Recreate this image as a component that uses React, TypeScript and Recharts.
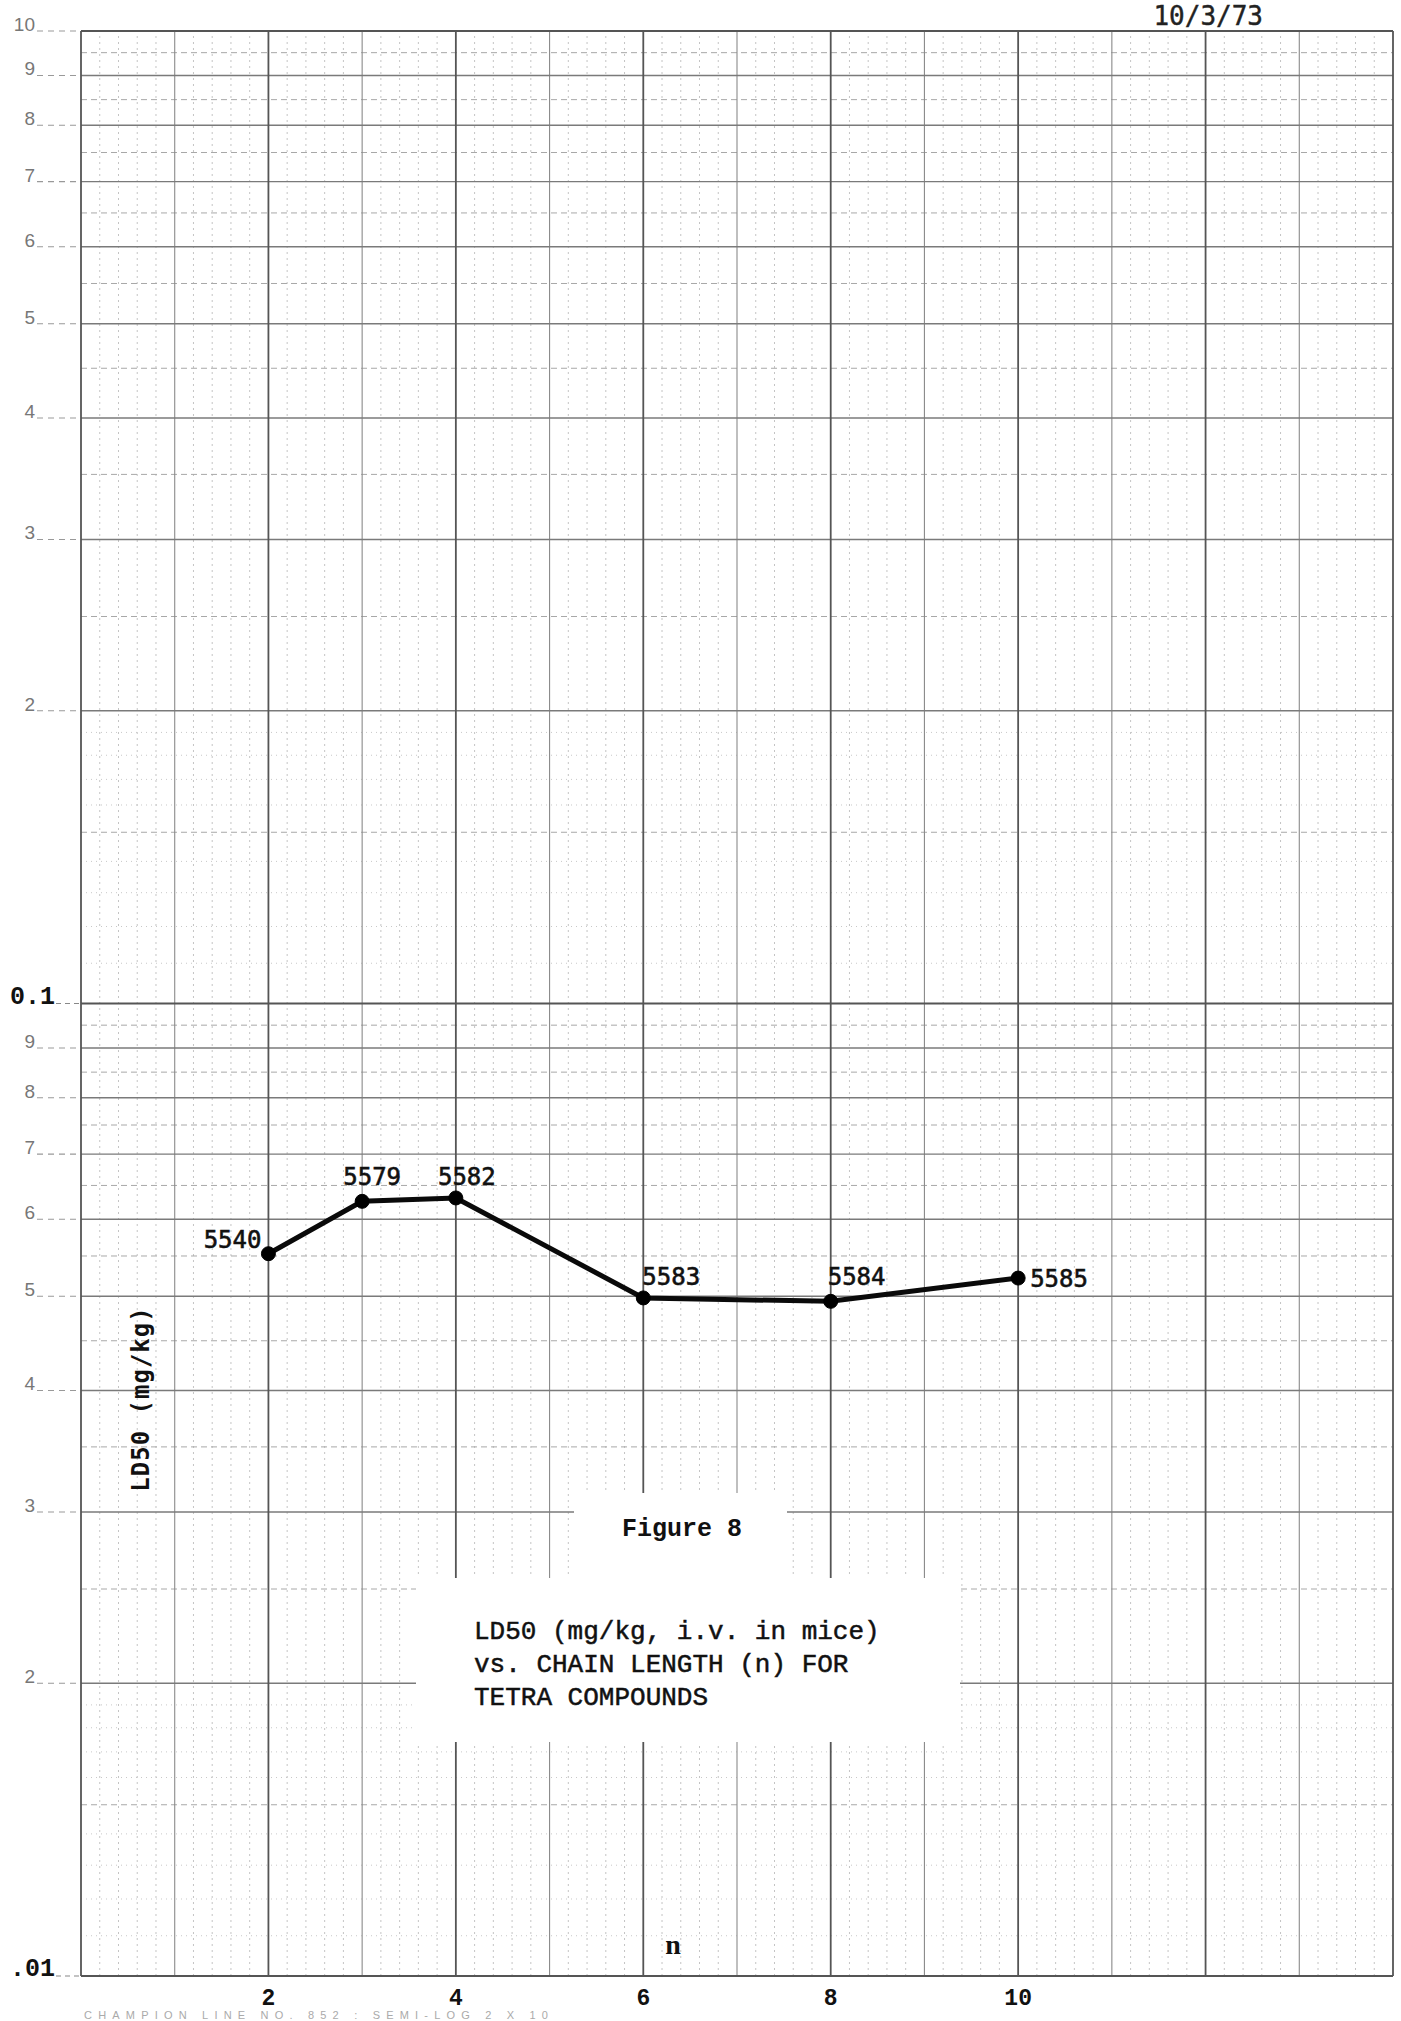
import React from 'react';
import { LineChart, Line, XAxis, YAxis, ReferenceLine, LabelList } from 'recharts';

// ---- data ----
const chainLength = [2, 3, 4, 6, 8, 10];
const ld50 = [0.0553, 0.0626, 0.0631, 0.0498, 0.0494, 0.0522];
const compoundIds = ['5540', '5579', '5582', '5583', '5584', '5585'];

const xTickValues = [2, 4, 6, 8, 10];
const yTickValues = [
  0.01, 0.02, 0.03, 0.04, 0.05, 0.06, 0.07, 0.08, 0.09,
  0.1, 0.2, 0.3, 0.4, 0.5, 0.6, 0.7, 0.8, 0.9, 1,
];
const yTickLabels = [
  '.01', '2', '3', '4', '5', '6', '7', '8', '9',
  '0.1', '2', '3', '4', '5', '6', '7', '8', '9', '10',
];

// ---- graph paper rulings (semi-log 2 x 10) ----
const paperCycles = [0.01, 0.1];
const cycleLines = [0.01, 0.1, 1];
const integerSteps = [2, 3, 4, 5, 6, 7, 8, 9];
const halfSteps = [1.5, 2.5, 3.5, 4.5, 5.5, 6.5, 7.5, 8.5, 9.5];
const tenthSteps = [1.1, 1.2, 1.3, 1.4, 1.6, 1.7, 1.8, 1.9];
const xMajorLines = [0, 2, 4, 6, 8, 10, 12, 14];
const xMediumLines = [1, 3, 5, 7, 9, 11, 13];
const xFineSteps = [0.2, 0.4, 0.6, 0.8];

const yIntegerLines = paperCycles.flatMap((c) => integerSteps.map((k) => c * k));
const yHalfLines = paperCycles.flatMap((c) => halfSteps.map((k) => c * k));
const yTenthLines = paperCycles.flatMap((c) => tenthSteps.map((k) => c * k));
const xFineLines = xMajorLines
  .concat(xMediumLines)
  .filter((v) => v < 14)
  .flatMap((v) => xFineSteps.map((f) => v + f));

// label placement relative to its point (layout only)
const labelPlacement: Record<string, { dx: number; dy: number; anchor: 'start' | 'middle' | 'end' }> = {
  '5540': { dx: -7, dy: -6, anchor: 'end' },
  '5579': { dx: 10, dy: -16, anchor: 'middle' },
  '5582': { dx: 11, dy: -13, anchor: 'middle' },
  '5583': { dx: -1, dy: -13, anchor: 'start' },
  '5584': { dx: -3, dy: -16, anchor: 'start' },
  '5585': { dx: 12, dy: 9, anchor: 'start' },
};

const data = chainLength.map((n, i) => ({ n, ld50: ld50[i], id: compoundIds[i] }));

const YTick = (props: any) => {
  const { x, y, payload } = props;
  const idx = yTickValues.findIndex((v) => Math.abs(v - payload.value) < 1e-9);
  const label = idx >= 0 ? yTickLabels[idx] : '';
  const handwritten = label.includes('.');
  if (handwritten) {
    return (
      <g>
        <text
          x={x - 26}
          y={y}
          textAnchor="end"
          fontFamily="'Liberation Mono', monospace"
          fontWeight="bold"
          fontSize={25}
          fill="#111"
        >
          {label}
        </text>
        <line x1={x - 25} x2={x - 2} y1={y} y2={y} stroke="#888" strokeWidth={1.2} strokeDasharray="5 4" />
      </g>
    );
  }
  return (
    <g>
      <text
        x={x - 46}
        y={y}
        textAnchor="end"
        fontFamily="'Liberation Sans', Arial, sans-serif"
        fontSize={19}
        fill="#777"
      >
        {label}
      </text>
      <line x1={x - 44} x2={x - 2} y1={y} y2={y} stroke="#999" strokeWidth={1.2} strokeDasharray="6 5" />
    </g>
  );
};

const renderIdLabel = (props: any) => {
  const vb = props.viewBox || {};
  const px = props.x ?? vb.x;
  const py = props.y ?? vb.y;
  const id = String(props.value);
  const p = labelPlacement[id] || { dx: 0, dy: -12, anchor: 'middle' };
  return (
    <text
      x={px + p.dx}
      y={py + p.dy}
      textAnchor={p.anchor}
      fontFamily="'DejaVu Sans Mono', monospace"
      fontSize={24}
      fill="#111"
      stroke="#111"
      strokeWidth={0.6}
    >
      {id}
    </text>
  );
};

export default function App() {
  return (
    <div style={{ position: 'absolute', left: 0, top: 0, width: 1401, height: 2021, background: '#fff' }}>
      <LineChart width={1401} height={2021} data={data} margin={{ top: 31, right: 8, bottom: 0, left: 0 }}>
        <XAxis
          dataKey="n"
          type="number"
          domain={[0, 14]}
          ticks={xTickValues}
          interval={0}
          axisLine={false}
          tickLine={false}
          tickSize={0}
          tickMargin={13}
          height={45}
          tick={{ fontFamily: "'Liberation Mono', monospace", fontSize: 23, fontWeight: 'bold', fill: '#111' }}
        />
        <YAxis
          scale="log"
          type="number"
          domain={[0.01, 1]}
          allowDataOverflow
          ticks={yTickValues}
          interval={0}
          width={81}
          axisLine={false}
          tickLine={false}
          tickSize={0}
          tickMargin={0}
          tick={<YTick />}
        />
        {yTenthLines.map((v) => (
          <ReferenceLine key={'yt' + v} y={v} stroke="#c8c8c8" strokeWidth={1} strokeDasharray="1 4" />
        ))}
        {xFineLines.map((v) => (
          <ReferenceLine key={'xf' + v} x={v} stroke="#c4c4c4" strokeWidth={1} strokeDasharray="2 4" />
        ))}
        {yHalfLines.map((v) => (
          <ReferenceLine key={'yh' + v} y={v} stroke="#a8a8a8" strokeWidth={1} strokeDasharray="6 4" />
        ))}
        {xMediumLines.map((v) => (
          <ReferenceLine key={'xm' + v} x={v} stroke="#8a8a8a" strokeWidth={1.1} />
        ))}
        {yIntegerLines.map((v) => (
          <ReferenceLine key={'yi' + v} y={v} stroke="#7a7a7a" strokeWidth={1.3} />
        ))}
        {xMajorLines.map((v) => (
          <ReferenceLine key={'xM' + v} x={v} stroke="#555" strokeWidth={1.8} />
        ))}
        {cycleLines.map((v) => (
          <ReferenceLine key={'yc' + v} y={v} stroke="#555" strokeWidth={1.8} />
        ))}
        <Line
          type="linear"
          dataKey="ld50"
          stroke="#0a0a0a"
          strokeWidth={5}
          dot={{ r: 7, fill: '#000', stroke: '#000', strokeWidth: 1 }}
          activeDot={false}
          isAnimationActive={false}
        >
          <LabelList dataKey="id" content={renderIdLabel} />
        </Line>
      </LineChart>
      <svg
        width={1401}
        height={2021}
        style={{ position: 'absolute', left: 0, top: 0, pointerEvents: 'none' }}
      >
        <rect x={574} y={1493} width={213} height={85} fill="#fff" />
        <rect x={416} y={1578} width={544} height={164} fill="#fff" />
        <text
          x={1263}
          y={25}
          textAnchor="end"
          fontFamily="'DejaVu Sans Mono', monospace"
          fontSize={26}
          fill="#222"
          stroke="#222"
          strokeWidth={0.4}
        >
          10/3/73
        </text>
        <text
          transform="translate(149,1399) rotate(-90)"
          x={0}
          y={0}
          textAnchor="middle"
          fontFamily="'DejaVu Sans Mono', monospace"
          fontWeight="bold"
          fontSize={24}
          letterSpacing={1}
          fill="#111"
        >
          LD50 (mg/kg)
        </text>
        <text
          x={622}
          y={1536}
          fontFamily="'Liberation Mono', monospace"
          fontWeight="bold"
          fontSize={25}
          fill="#111"
        >
          Figure 8
        </text>
        {['LD50 (mg/kg, i.v. in mice)', 'vs. CHAIN LENGTH (n) FOR', 'TETRA COMPOUNDS'].map((t, i) => (
          <text
            key={t}
            x={474}
            y={1639 + i * 33}
            fontFamily="'Liberation Mono', monospace"
            fontSize={26}
            fill="#111"
            stroke="#111"
            strokeWidth={0.5}
          >
            {t}
          </text>
        ))}
        <text
          x={673}
          y={1954}
          textAnchor="middle"
          fontFamily="'Liberation Serif', serif"
          fontWeight="bold"
          fontSize={28}
          fill="#111"
        >
          n
        </text>
        <text
          x={84}
          y={2019}
          textLength={464}
          lengthAdjust="spacing"
          fontFamily="'Liberation Sans', Arial, sans-serif"
          fontSize={11}
          fill="#aaa"
        >
          CHAMPION LINE NO. 852 : SEMI-LOG 2 X 10
        </text>
      </svg>
    </div>
  );
}
